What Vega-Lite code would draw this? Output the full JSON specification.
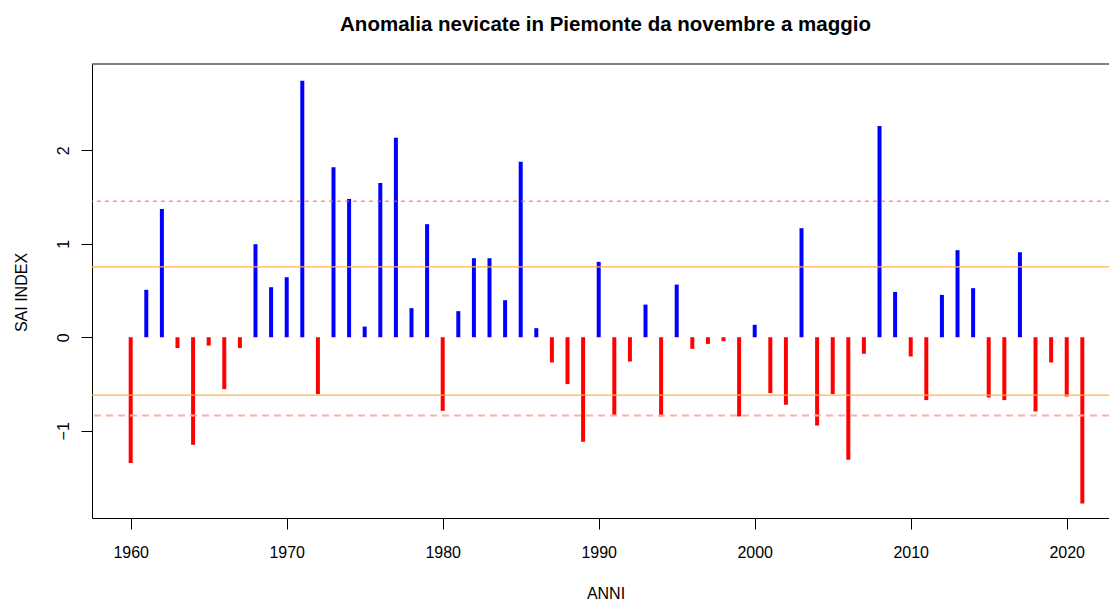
{
  "$schema": "https://vega.github.io/schema/vega-lite/v6.json",
  "autosize": "none",
  "padding": {"left": 92, "top": 64, "right": 0, "bottom": 82},
  "width": 1017,
  "height": 454,
  "background": "white",
  "config": {"view": {"stroke": null}, "font": "Liberation Sans"},
  "title": {
    "text": "Anomalia nevicate in Piemonte da novembre a maggio",
    "font": "Liberation Sans",
    "fontSize": 20.5,
    "fontWeight": "bold",
    "color": "#000000",
    "anchor": "middle",
    "baseline": "alphabetic",
    "offset": 12,
    "dx": 5
  },
  "datasets": {
    "anni": [
      {"anno": 1960, "sai": -1.345}, {"anno": 1961, "sai": 0.507}, {"anno": 1962, "sai": 1.372},
      {"anno": 1963, "sai": -0.116}, {"anno": 1964, "sai": -1.15}, {"anno": 1965, "sai": -0.089},
      {"anno": 1966, "sai": -0.555}, {"anno": 1967, "sai": -0.116}, {"anno": 1968, "sai": 0.995},
      {"anno": 1969, "sai": 0.535}, {"anno": 1970, "sai": 0.642}, {"anno": 1971, "sai": 2.743},
      {"anno": 1972, "sai": -0.608}, {"anno": 1973, "sai": 1.818}, {"anno": 1974, "sai": 1.479},
      {"anno": 1975, "sai": 0.114}, {"anno": 1976, "sai": 1.65}, {"anno": 1977, "sai": 2.134},
      {"anno": 1978, "sai": 0.311}, {"anno": 1979, "sai": 1.209}, {"anno": 1980, "sai": -0.787},
      {"anno": 1981, "sai": 0.279}, {"anno": 1982, "sai": 0.845}, {"anno": 1983, "sai": 0.845},
      {"anno": 1984, "sai": 0.396}, {"anno": 1985, "sai": 1.878}, {"anno": 1986, "sai": 0.097},
      {"anno": 1987, "sai": -0.27}, {"anno": 1988, "sai": -0.501}, {"anno": 1989, "sai": -1.118},
      {"anno": 1990, "sai": 0.806}, {"anno": 1991, "sai": -0.833}, {"anno": 1992, "sai": -0.26},
      {"anno": 1993, "sai": 0.349}, {"anno": 1994, "sai": -0.847}, {"anno": 1995, "sai": 0.563},
      {"anno": 1996, "sai": -0.124}, {"anno": 1997, "sai": -0.071}, {"anno": 1998, "sai": -0.042},
      {"anno": 1999, "sai": -0.847}, {"anno": 2000, "sai": 0.133}, {"anno": 2001, "sai": -0.597},
      {"anno": 2002, "sai": -0.722}, {"anno": 2003, "sai": 1.166}, {"anno": 2004, "sai": -0.944},
      {"anno": 2005, "sai": -0.608}, {"anno": 2006, "sai": -1.31}, {"anno": 2007, "sai": -0.177},
      {"anno": 2008, "sai": 2.259}, {"anno": 2009, "sai": 0.485}, {"anno": 2010, "sai": -0.206},
      {"anno": 2011, "sai": -0.672}, {"anno": 2012, "sai": 0.453}, {"anno": 2013, "sai": 0.931},
      {"anno": 2014, "sai": 0.525}, {"anno": 2015, "sai": -0.644}, {"anno": 2016, "sai": -0.672},
      {"anno": 2017, "sai": 0.909}, {"anno": 2018, "sai": -0.794}, {"anno": 2019, "sai": -0.27},
      {"anno": 2020, "sai": -0.634}, {"anno": 2021, "sai": -1.777}
    ]
  },
  "layer": [
    {
      "data": {"name": "anni"},
      "mark": {"type": "rule", "strokeWidth": 4, "strokeCap": "butt"},
      "encoding": {
        "x": {
          "field": "anno", "type": "quantitative",
          "scale": {"domain": [1957.52, 2022.71], "nice": false, "zero": false},
          "axis": {
            "values": [1960, 1970, 1980, 1990, 2000, 2010, 2020],
            "format": "d", "grid": false,
            "labelFont": "Liberation Sans", "labelFontSize": 16, "labelColor": "#000000",
            "labelBaseline": "alphabetic", "labelPadding": 28, "labelFlush": false, "labelOverlap": false,
            "tickSize": 11, "tickColor": "#000000", "tickWidth": 1,
            "domainColor": "#000000", "domainWidth": 1,
            "title": "ANNI", "titleFont": "Liberation Sans", "titleFontSize": 16, "titleFontWeight": "normal",
            "titleColor": "#000000", "titleBaseline": "alphabetic", "titleY": 80, "titleX": 513.5
          }
        },
        "y": {
          "field": "sai", "type": "quantitative",
          "scale": {"domain": [-1.933, 2.922], "nice": false, "zero": false},
          "axis": {
            "values": [-1, 0, 1, 2], "format": "d", "grid": false,
            "labelFont": "Liberation Sans", "labelFontSize": 16, "labelColor": "#000000",
            "labelAngle": 270, "labelAlign": "center", "labelBaseline": "alphabetic", "labelPadding": 13,
            "tickSize": 11, "tickColor": "#000000", "tickWidth": 1,
            "domainColor": "#000000", "domainWidth": 1,
            "title": "SAI INDEX", "titleFont": "Liberation Sans", "titleFontSize": 16, "titleFontWeight": "normal",
            "titleColor": "#000000", "titleAngle": 270, "titleBaseline": "alphabetic", "titleX": -66, "titleY": 228,
            "titleAlign": "center"
          }
        },
        "y2": {"datum": 0},
        "color": {"condition": {"test": "datum.sai > 0", "value": "#0000FF"}, "value": "#FF0000"}
      }
    },
    {
      "data": {"values": [{"soglia": 1.455}]},
      "mark": {"type": "rule", "color": "#FF6347", "strokeWidth": 1, "strokeDash": [4, 4]},
      "encoding": {"y": {"field": "soglia", "type": "quantitative"}}
    },
    {
      "data": {"values": [{"soglia": 0.752}, {"soglia": -0.619}]},
      "mark": {"type": "rule", "color": "#FFB347", "strokeWidth": 1.3},
      "encoding": {"y": {"field": "soglia", "type": "quantitative"}}
    },
    {
      "data": {"values": [{"soglia": -0.837}]},
      "mark": {"type": "rule", "color": "#FFB0A3", "strokeWidth": 2, "strokeDash": [7, 5]},
      "encoding": {"y": {"field": "soglia", "type": "quantitative"}}
    },
    {
      "data": {"values": [{"soglia": 2.922}]},
      "mark": {"type": "rule", "color": "#000000", "strokeWidth": 1},
      "encoding": {"y": {"field": "soglia", "type": "quantitative"}}
    }
  ]
}
